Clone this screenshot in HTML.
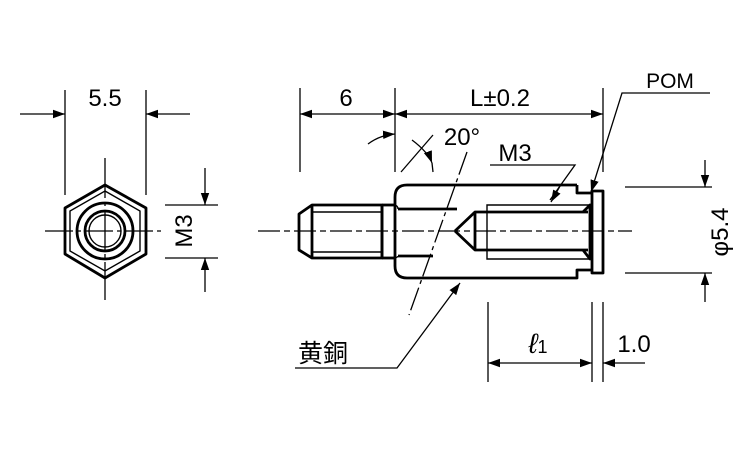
<!DOCTYPE html>
<html><head><meta charset="utf-8"><style>body{margin:0;background:#fff}svg{display:block}text{font-family:"Liberation Sans","Noto Sans CJK JP",sans-serif;fill:#000}</style></head><body>
<svg width="750" height="450" viewBox="0 0 750 450" xmlns="http://www.w3.org/2000/svg">
<defs><marker id="a" viewBox="0 0 10 10" refX="10" refY="5" markerWidth="12" markerHeight="12" markerUnits="userSpaceOnUse" orient="auto"><path d="M0,1.5 L10,5 L0,8.5z" fill="#000"/></marker></defs>
<g fill="none" stroke="#000" stroke-width="1.3">
<line x1="45" y1="231" x2="162" y2="231" stroke-dasharray="28,4,4,4"/>
<line x1="105" y1="158" x2="105" y2="300" stroke-dasharray="40,4,4,4"/>
<line x1="65" y1="90" x2="65" y2="195"/><line x1="146" y1="90" x2="146" y2="195"/>
<line x1="20" y1="114" x2="65" y2="114" marker-end="url(#a)"/><line x1="190" y1="114" x2="146" y2="114" marker-end="url(#a)"/>
<line x1="165" y1="205" x2="218" y2="205"/><line x1="165" y1="258" x2="218" y2="258"/>
<line x1="205" y1="168" x2="205" y2="205" marker-end="url(#a)"/><line x1="205" y1="292" x2="205" y2="258" marker-end="url(#a)"/>
<line x1="258" y1="231" x2="632" y2="231" stroke-dasharray="22,4,6,4"/>
<line x1="300" y1="88" x2="300" y2="172"/><line x1="395" y1="88" x2="395" y2="172"/><line x1="603" y1="88" x2="603" y2="172"/>
<line x1="348" y1="114" x2="300" y2="114" marker-end="url(#a)"/><line x1="348" y1="114" x2="395" y2="114" marker-end="url(#a)"/>
<line x1="500" y1="114" x2="395" y2="114" marker-end="url(#a)"/><line x1="500" y1="114" x2="603" y2="114" marker-end="url(#a)"/>
<line x1="401" y1="172" x2="433" y2="135"/>
<path d="M368,144 Q380,135 395,134" marker-end="url(#a)"/>
<path d="M412,140 Q428,152 432,163" marker-end="url(#a)"/>
<path d="M432,163 L433,172"/>
<line x1="467" y1="152" x2="409" y2="315" stroke-dasharray="24,4,4,4"/>
<polyline points="710,93 622,93 591,192" marker-end="url(#a)"/>
<polyline points="490,165 575,165 550,200"/>
<line x1="560" y1="186" x2="551" y2="202" marker-end="url(#a)"/>
<line x1="625" y1="187" x2="712" y2="187"/><line x1="625" y1="273" x2="712" y2="273"/>
<line x1="705" y1="160" x2="705" y2="187" marker-end="url(#a)"/><line x1="705" y1="302" x2="705" y2="273" marker-end="url(#a)"/>
<line x1="488" y1="302" x2="488" y2="382"/><line x1="592" y1="302" x2="592" y2="382"/><line x1="603" y1="302" x2="603" y2="382"/>
<line x1="540" y1="363" x2="488" y2="363" marker-end="url(#a)"/><line x1="540" y1="363" x2="592" y2="363" marker-end="url(#a)"/>
<line x1="645" y1="363" x2="603" y2="363" marker-end="url(#a)"/>
<polyline points="295,368 397,368 460,283" marker-end="url(#a)"/>
</g>
<g fill="none" stroke="#000" stroke-width="2.8" stroke-linejoin="round">
<polygon points="105,185 146,208 146,254 105,278 65,254 65,208"/>
<circle cx="105" cy="231" r="20"/>
<circle cx="105" cy="231" r="28"/>
<path d="M382,205 L312,205 L299,214 L299,250 L312,258 L382,258 Z"/>
<line x1="312" y1="205" x2="312" y2="258"/>
<line x1="382" y1="205" x2="382" y2="258"/>
<line x1="382" y1="205" x2="395" y2="205"/><line x1="382" y1="258" x2="395" y2="258"/>
<path d="M577,185 L407,185 Q395,185 395,197 L395,266 Q395,278 407,278 L577,278 L577,270 L592,270"/>
<path d="M577,185 L577,193 L592,193"/>
<path d="M398,209 L457,209 M398,256 L433,256"/>
<path d="M455,231 L475,212 L588,212 M455,231 L475,250 L588,250 M475,212 L475,250"/>
<rect x="592" y="191" width="11" height="82"/>
<path d="M583,212 L590,205 L590,259 L583,250"/>
</g>
<g fill="none" stroke="#000" stroke-width="1.4">
<polygon points="105,191 140,211 140,251 105,271 70,251 70,211"/>
<circle cx="105" cy="231" r="16"/>
<path d="M312,212 L382,212 M312,252 L382,252"/>
<path d="M590,205 L487,205 L487,259 L590,259"/>
<path d="M395,205 Q398,206 398,209 M395,258 Q398,257 398,256"/>
</g>
<text x="105" y="106" font-size="24" text-anchor="middle">5.5</text>
<text x="0" y="0" font-size="24" text-anchor="middle" transform="translate(192,231) rotate(-90)">M3</text>
<text x="346" y="106" font-size="24" text-anchor="middle">6</text>
<text x="500" y="106" font-size="24" text-anchor="middle">L±0.2</text>
<text x="462" y="145" font-size="24" text-anchor="middle">20°</text>
<text x="515" y="161" font-size="24" text-anchor="middle">M3</text>
<text x="670" y="88" font-size="21" text-anchor="middle">POM</text>
<text x="0" y="0" font-size="24" text-anchor="middle" transform="translate(728,232) rotate(-90)">φ5.4</text>
<text x="538" y="353" font-size="28" text-anchor="middle" font-style="italic">ℓ<tspan font-size="18" font-style="normal">1</tspan></text>
<text x="634" y="352" font-size="24" text-anchor="middle">1.0</text>
<text x="323" y="362" font-size="25" text-anchor="middle">黄銅</text>
</svg>
</body></html>
